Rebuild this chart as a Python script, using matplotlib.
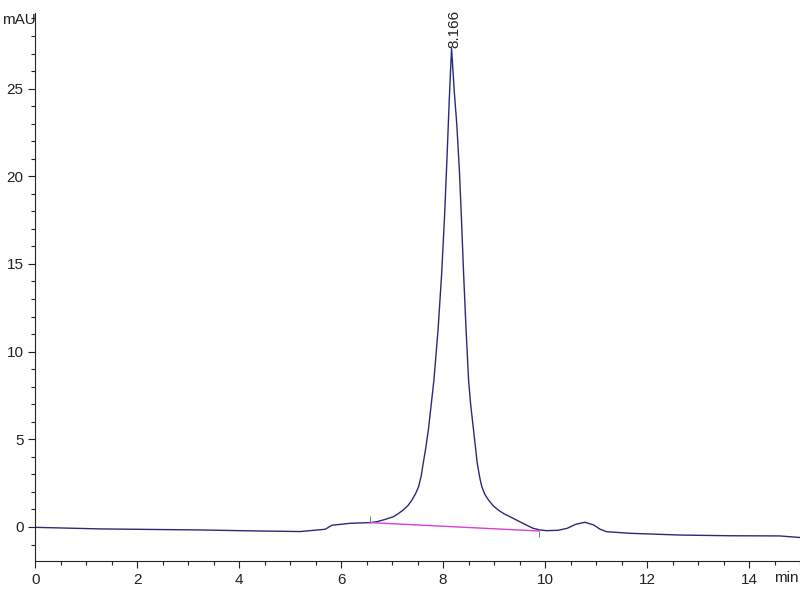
import matplotlib
matplotlib.use("Agg")
import matplotlib.pyplot as plt
from matplotlib.ticker import MultipleLocator

# retention time (min) and signal (mAU)
time_min = [0.0, 1.27, 3.24, 4.41, 5.2, 5.69, 5.82, 6.18, 6.57, 6.70, 6.85,
            7.03, 7.12, 7.22, 7.31, 7.39, 7.46, 7.52, 7.57, 7.61, 7.66, 7.71,
            7.76, 7.82, 7.90, 7.97, 8.03, 8.08, 8.12, 8.166, 8.22, 8.27, 8.32,
            8.36, 8.40, 8.45, 8.50, 8.54, 8.61, 8.67, 8.72, 8.76, 8.82, 8.89,
            8.98, 9.08, 9.19, 9.31, 9.47, 9.64, 9.77, 9.9, 10.03, 10.25, 10.43,
            10.6, 10.78, 10.95, 11.08, 11.21, 11.67, 12.65, 13.63, 14.6, 15.0]
signal_mau = [-0.02, -0.11, -0.17, -0.23, -0.26, -0.13, 0.1, 0.21, 0.25, 0.30,
              0.42, 0.59, 0.76, 0.97, 1.22, 1.54, 1.9, 2.3, 2.9, 3.63, 4.5,
              5.52, 6.8, 8.37, 11.2, 14.35, 17.8, 21.3, 24.3, 27.3, 24.8, 22.9,
              20.3, 17.6, 14.6, 11.3, 8.37, 7.0, 5.2, 3.63, 2.8, 2.3, 1.85,
              1.54, 1.22, 0.97, 0.76, 0.59, 0.35, 0.1, -0.08, -0.17, -0.21,
              -0.19, -0.08, 0.15, 0.27, 0.12, -0.13, -0.27, -0.36, -0.46, -0.5,
              -0.51, -0.6]

# integration baseline under the main peak
base_t = [6.57, 9.88]
base_y = [0.25, -0.23]

peak_rt = 8.166
peak_h = 27.3

plt.rcParams['font.family'] = ['Liberation Sans Narrow', 'Liberation Sans', 'DejaVu Sans']

fig = plt.figure(figsize=(8, 6), dpi=100)
ax = fig.add_axes([0.044, 0.065, 0.956, 0.913])

ax.plot(time_min, signal_mau, color='#2a2a78', lw=1.0)
ax.plot(base_t, base_y, color='#d93fd9', lw=1.0)
# start / end marks of the integration
ax.vlines(base_t[0], base_y[0], base_y[0] + 0.35, color='#777777', lw=0.7)
ax.vlines(base_t[1], base_y[1] - 0.35, base_y[1], color='#777777', lw=0.7)

ax.text(peak_rt + 0.05, peak_h, f"{peak_rt:.3f}", rotation=90, ha='center',
        va='bottom', fontsize=11, color='#222222')

ax.set_xlim(0, 15)
ax.set_ylim(-1.94, 29.3)
ax.xaxis.set_major_locator(MultipleLocator(2))
ax.xaxis.set_minor_locator(MultipleLocator(0.5))
ax.yaxis.set_major_locator(MultipleLocator(5))
ax.yaxis.set_minor_locator(MultipleLocator(1))
ax.tick_params(which='major', length=5, width=0.8, labelsize=11, colors='#222222')
ax.tick_params(which='minor', length=3, width=0.8, colors='#222222')

for side in ('top', 'right'):
    ax.spines[side].set_visible(False)
for side in ('left', 'bottom'):
    ax.spines[side].set_color('#222222')
    ax.spines[side].set_linewidth(0.8)

fig.text(0.003, 0.966, "mAU", fontsize=11, ha='left', va='center', color='#222222')
fig.text(0.998, 0.037, "min", fontsize=11, ha='right', va='center', color='#222222')

fig.savefig("out.png", dpi=100)
